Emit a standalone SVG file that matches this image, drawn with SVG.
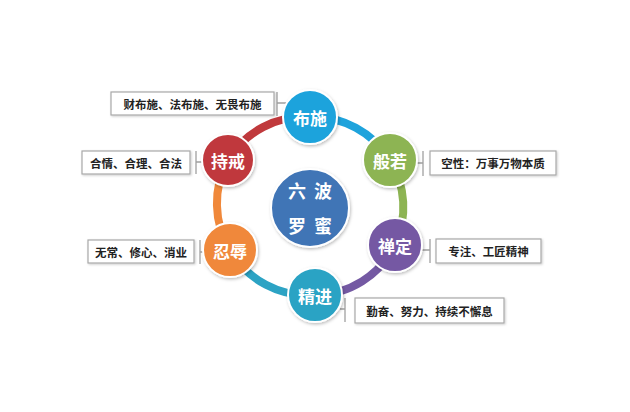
<svg xmlns="http://www.w3.org/2000/svg" width="630" height="412" viewBox="0 0 630 412">
<defs>
<filter id="sh" x="-20%" y="-20%" width="140%" height="140%">
<feDropShadow dx="1" dy="1.5" stdDeviation="1.5" flood-color="#000" flood-opacity="0.25"/>
</filter>
<filter id="bsh" x="-5%" y="-20%" width="110%" height="140%">
<feDropShadow dx="1" dy="1" stdDeviation="0.8" flood-color="#000" flood-opacity="0.2"/>
</filter>
</defs>
<style>
.arc{fill:none;stroke-width:8;stroke-linecap:butt}
.node{stroke:#fff;stroke-width:2;filter:url(#sh)}
.nt{font-family:"Noto Sans CJK SC","Noto Sans",sans-serif;font-size:17px;font-weight:700;fill:#fff;text-anchor:middle;dominant-baseline:central}
.ct{font-family:"Noto Sans CJK SC","Noto Sans",sans-serif;font-size:18px;font-weight:700;fill:#fff;text-anchor:middle;dominant-baseline:central}
.box{fill:#fff;stroke:#a8a8a8;stroke-width:1.2;filter:url(#bsh)}
.bt{font-family:"Noto Sans CJK SC","Noto Sans",sans-serif;font-size:11.5px;font-weight:700;fill:#222;text-anchor:middle;dominant-baseline:central}
.br{fill:none;stroke:#a0a0a0;stroke-width:1.3}
</style>
<rect width="630" height="412" fill="#fff"/>
<g id="connectors">
<path class="arc" stroke="#1ea3dc" d="M310 117 A90 90 0 0 1 390 160"/>
<path class="arc" stroke="#8db453" d="M390 160 A90 90 0 0 1 395 245"/>
<path class="arc" stroke="#7459a3" d="M395 245 A90 90 0 0 1 315 295"/>
<path class="arc" stroke="#2ca3c4" d="M315 295 A90 90 0 0 1 230 250"/>
<path class="arc" stroke="#f0883a" d="M230 250 A90 90 0 0 1 228 160"/>
<path class="arc" stroke="#c0393c" d="M228 160 A90 90 0 0 1 310 117"/>
<path class="br" d="M277 92 V116 M277 103 H287"/>
<path class="br" d="M196 151 V174 M196 162 H203"/>
<path class="br" d="M423 151 V176 M423 163 H416"/>
<path class="br" d="M200 240 V264 M200 252 H204"/>
<path class="br" d="M430 239 V263 M430 250 H421"/>
<path class="br" d="M345 298 V322 M345 309 H340"/>
</g>
<g id="center">
<circle class="node" cx="310" cy="208" r="39" fill="#3f74b6"/>
<text class="ct" x="297" y="190">六</text>
<text class="ct" x="323" y="190">波</text>
<text class="ct" x="297" y="225">罗</text>
<text class="ct" x="323" y="225">蜜</text>
</g>
<g id="bushi">
<circle class="node" cx="310" cy="117" r="27" fill="#1ea3dc"/>
<text class="nt" x="310" y="117">布施</text>
</g>
<g id="boruo">
<circle class="node" cx="390" cy="160" r="27" fill="#8db453"/>
<text class="nt" x="390" y="160">般若</text>
</g>
<g id="chanding">
<circle class="node" cx="395" cy="245" r="27" fill="#7459a3"/>
<text class="nt" x="395" y="245">禅定</text>
</g>
<g id="jingjin">
<circle class="node" cx="315" cy="295" r="27" fill="#2ca3c4"/>
<text class="nt" x="315" y="295">精进</text>
</g>
<g id="renru">
<circle class="node" cx="230" cy="250" r="27" fill="#f0883a"/>
<text class="nt" x="230" y="250">忍辱</text>
</g>
<g id="chijie">
<circle class="node" cx="228" cy="160" r="26" fill="#c0393c"/>
<text class="nt" x="228" y="160">持戒</text>
</g>
<g id="box-bushi">
<rect class="box" x="111" y="92" width="163" height="23"/>
<text class="bt" x="192.5" y="103.5">财布施、法布施、无畏布施</text>
</g>
<g id="box-chijie">
<rect class="box" x="82" y="151" width="108" height="23"/>
<text class="bt" x="136" y="162.5">合情、合理、合法</text>
</g>
<g id="box-boruo">
<rect class="box" x="430" y="151" width="126" height="24"/>
<text class="bt" x="493" y="163">空性：万事万物本质</text>
</g>
<g id="box-renru">
<rect class="box" x="88" y="240" width="106" height="23"/>
<text class="bt" x="141" y="251.5">无常、修心、消业</text>
</g>
<g id="box-chanding">
<rect class="box" x="436" y="239" width="105" height="24"/>
<text class="bt" x="488.5" y="251">专注、工匠精神</text>
</g>
<g id="box-jingjin">
<rect class="box" x="355" y="298" width="149" height="25"/>
<text class="bt" x="429.5" y="310.5">勤奋、努力、持续不懈息</text>
</g>
</svg>
